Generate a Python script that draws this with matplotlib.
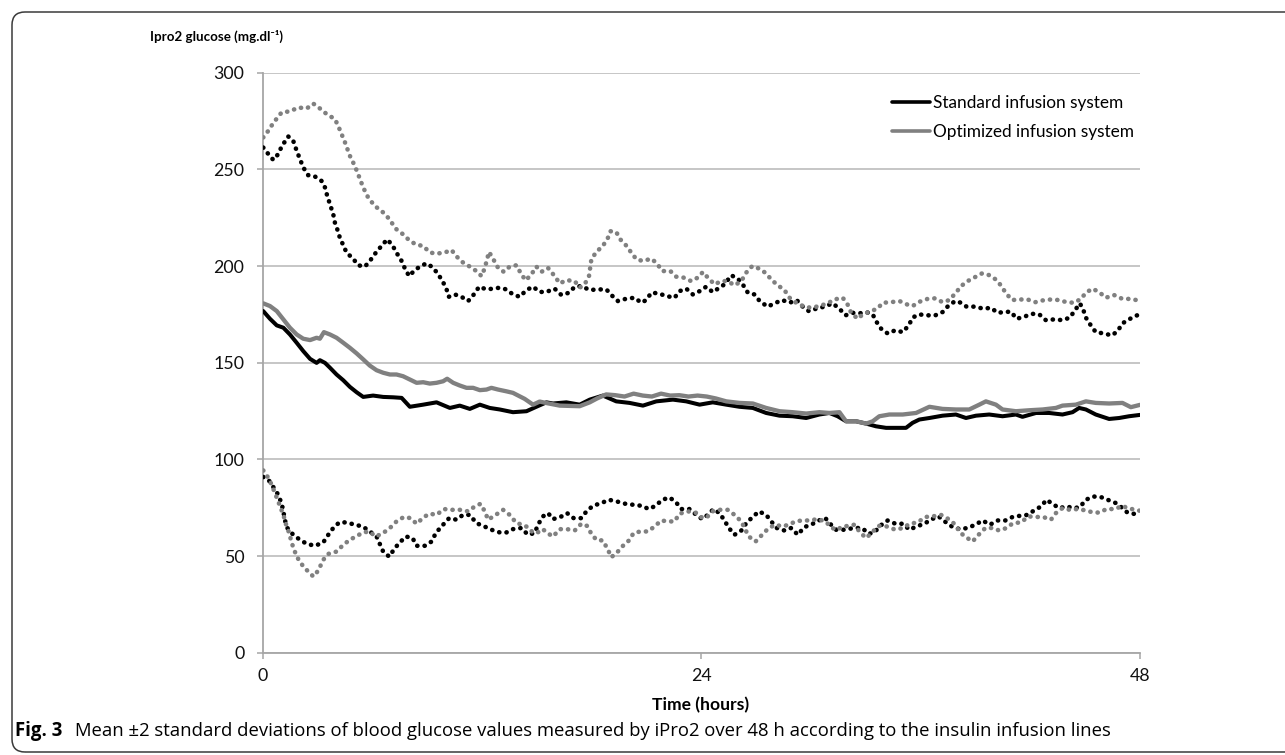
import matplotlib
matplotlib.use("Agg")
import matplotlib.pyplot as plt
from matplotlib.patches import FancyBboxPatch
from matplotlib import font_manager

# ---------------- data (hours, mg/dl) ----------------
std_hi = [(0.04,261.3),(0.32,257.9),(0.59,254.9),(0.86,257.9),(1.05,261.9),(1.41,267),(1.68,264.8),(1.87,259.6),(2.05,255.3),(2.23,251),(2.5,247),(2.87,246.3),(3.23,244),(3.42,240.6),(3.54,236.3),(3.69,232),(3.87,226.8),(3.96,222.5),(4.09,219),(4.23,214.7),(4.42,210.7),(4.6,206.9),(4.96,203.8),(5.23,200.4),(5.6,199.7),(5.87,202.6),(6.2,206.9),(6.51,210.4),(6.82,213.8),(7.11,210.7),(7.33,206.9),(7.61,202.6),(7.79,198.7),(8.02,194.8),(8.33,197.9),(8.61,199.7),(8.97,201.4),(9.25,199.7),(9.55,196.6),(9.85,192.2),(10.07,187.9),(10.19,184.1),(10.52,185.3),(10.88,184.1),(11.25,181.9),(11.56,185.3),(11.85,189.3),(12.25,187.9),(12.61,188.3),(12.98,188.8),(13.34,187.9),(13.7,185.3),(14.07,184.1),(14.44,187.6),(14.8,189.3),(15.16,186.6),(15.53,186.6),(15.98,188.3),(16.35,185),(16.77,186.2),(17.08,189.3),(17.44,189.6),(17.9,187.6),(18.35,187.9),(18.81,187.9),(19.14,184.5),(19.44,181.9),(19.9,183.1),(20.36,183.6),(20.72,181),(20.99,182.4),(21.27,186.2),(21.63,185.9),(22.09,184.5),(22.54,183.6),(22.81,187),(23.18,188.3),(23.54,185.3),(23.91,187),(24.27,189.3),(24.63,186.5),(25.0,188.8),(25.27,190.5),(25.64,195.2),(26.0,193.5),(26.27,190.5),(26.55,186.2),(26.91,185.3),(27.22,181.6),(27.64,179),(28.0,180.7),(28.43,182.4),(28.83,181),(29.22,182.4),(29.55,179),(29.88,176.7),(30.28,177.9),(30.74,179),(31.19,180.7),(31.56,177.9),(31.89,174.5),(32.28,175.8),(32.65,175.5),(33.02,176.2),(33.38,175),(33.56,171.5),(33.84,167.6),(34.2,165.1),(34.62,166.8),(35.02,165.8),(35.35,169.3),(35.56,173.3),(35.89,175),(36.38,174.5),(36.8,174.5),(37.2,176.2),(37.53,179.6),(37.9,181.9),(38.21,181),(38.51,179),(38.99,179),(39.43,177.9),(39.85,178.4),(40.21,175.8),(40.57,176.2),(40.94,176.4),(41.25,172.7),(41.67,173.8),(42.09,175.3),(42.49,175),(42.85,172),(43.31,172.4),(43.76,172),(44.16,173.3),(44.45,177.2),(44.71,180.7),(44.89,177.6),(45.04,173.3),(45.31,169.3),(45.58,165.8),(46.04,165.1),(46.46,164.1),(46.77,166.3),(47.04,170.3),(47.31,172),(47.68,173.8),(48.0,175.2)]

opt_hi = [(0.04,266.5),(0.32,270),(0.59,274),(1.05,279.5),(1.5,280),(1.96,282),(2.42,281.5),(2.78,284),(3.14,281.5),(3.51,278.6),(3.96,276),(4.14,272.5),(4.51,264),(4.78,257),(5.05,251.8),(5.23,247.5),(5.51,240.6),(5.78,235.4),(6.15,231),(6.51,228.5),(6.79,226),(7.06,222.5),(7.33,219),(7.69,216.4),(8.06,213),(8.43,211),(8.79,210.4),(9.15,207),(9.52,206.4),(9.97,207),(10.34,208.3),(10.61,205),(10.97,201.8),(11.34,199.7),(11.7,197.4),(11.98,194.8),(12.16,199),(12.39,207.3),(12.61,203.8),(12.89,199),(13.2,197),(13.52,199.7),(13.89,200.4),(14.16,195.7),(14.4,192.6),(14.71,195.7),(14.98,199.7),(15.26,197),(15.62,199),(15.98,194.8),(16.26,191),(16.62,192.7),(17.08,192.2),(17.35,188.8),(17.62,190.5),(17.86,194.8),(17.99,203.5),(18.26,207.3),(18.62,210.4),(18.9,214.7),(19.03,218),(19.35,217.6),(19.57,213.8),(19.86,211),(20.17,207),(20.45,203.5),(20.81,202.6),(21.27,203.8),(21.57,201.4),(21.87,197.4),(22.31,197.4),(22.63,194.5),(23.03,194),(23.45,192.2),(23.81,194),(24.09,196.9),(24.36,194),(24.73,190.5),(25.09,192.2),(25.45,192.2),(25.82,190),(26.19,192.2),(26.46,196.6),(26.79,200),(27.19,198.6),(27.55,196.2),(27.83,193),(28.19,190),(28.55,187.6),(28.83,183.6),(29.19,181),(29.64,179),(30.01,178.4),(30.46,179.3),(30.92,180.7),(31.28,182.7),(31.74,183.6),(32.01,180),(32.2,175.8),(32.56,172.7),(32.83,175),(33.29,176.7),(33.65,178),(33.92,181),(34.38,181.3),(34.84,181.9),(35.29,180),(35.56,179.3),(35.93,181.5),(36.38,183),(36.8,183.3),(37.2,181.3),(37.57,182.4),(37.93,186.2),(38.21,189.6),(38.57,192.2),(38.93,194),(39.36,196.2),(39.75,195.3),(40.12,193),(40.39,190),(40.67,185.9),(41.0,182.4),(41.39,182.7),(41.85,182.7),(42.27,181.3),(42.67,182.2),(43.13,182.7),(43.58,182.4),(43.98,181.3),(44.4,181),(44.77,183),(45.04,186.2),(45.4,188.3),(45.77,186.5),(46.13,183.6),(46.58,185),(47.04,183),(47.5,183),(48.0,182)]

std_mean = [(0.04,176.7),(0.41,172.7),(0.78,169.3),(1.14,168.1),(1.5,164.6),(1.87,160.3),(2.23,156),(2.6,152),(2.96,149.9),(3.14,151.3),(3.42,149.9),(3.69,147.4),(4.05,143.9),(4.42,140.9),(4.78,137.5),(5.15,134.7),(5.51,132.3),(6.05,133),(6.6,132.3),(7.15,132.1),(7.61,131.8),(8.06,127.2),(8.79,128.3),(9.52,129.5),(10.25,126.6),(10.79,127.8),(11.34,126.1),(11.89,128.3),(12.43,126.6),(12.98,125.8),(13.7,124.4),(14.44,124.9),(14.98,127.2),(15.53,129.5),(15.89,128.9),(16.62,129.5),(17.35,128.3),(17.9,130.9),(18.62,133),(19.35,130),(20.08,129.2),(20.81,127.8),(21.54,130),(22.45,130.9),(23.18,130),(23.91,128.3),(24.63,129.5),(25.37,128.3),(26.09,127.2),(26.82,126.6),(27.55,124),(28.28,122.6),(29.0,122.3),(29.74,121.4),(30.46,123.2),(31.01,124),(31.46,122.3),(31.92,119.7),(32.47,119.7),(33.02,118.5),(33.56,117.1),(34.11,116.3),(34.66,116.3),(35.2,116.3),(35.56,118.9),(35.93,120.6),(36.48,121.4),(37.2,122.6),(37.93,123.2),(38.48,121.4),(39.03,122.6),(39.75,123.2),(40.48,122.3),(41.21,123.2),(41.57,122),(42.31,124),(43.03,124),(43.76,123.2),(44.31,124.4),(44.67,126.6),(45.04,125.8),(45.58,123.2),(46.31,120.9),(46.86,121.4),(47.4,122.3),(48.0,123)]

opt_mean = [(0.04,180.7),(0.41,179.3),(0.78,176.7),(1.14,172.4),(1.5,168.1),(1.87,164.6),(2.23,162.4),(2.6,161.7),(2.96,162.9),(3.14,162.4),(3.36,165.8),(3.69,164.6),(4.05,162.9),(4.42,160.3),(4.78,157.7),(5.15,154.8),(5.51,151.7),(5.87,148.5),(6.24,146.1),(6.6,144.8),(6.97,143.9),(7.33,143.9),(7.69,143),(8.06,141.3),(8.43,139.6),(8.79,139.9),(9.15,139.2),(9.52,139.6),(9.88,140.4),(10.1,141.7),(10.43,139.6),(10.79,138.2),(11.16,137),(11.52,137),(11.89,135.8),(12.25,136.1),(12.52,137),(12.89,136.1),(13.34,135.2),(13.7,134.4),(14.07,132.6),(14.34,131.3),(14.8,128.3),(15.16,129.9),(15.6,129),(16.26,127.8),(17.35,127.5),(17.9,129.5),(18.3,131.5),(18.8,133.6),(19.3,133.2),(19.8,132.5),(20.3,134),(20.8,133),(21.3,132.5),(21.8,134),(22.3,133),(22.8,133.2),(23.3,132.5),(23.8,133),(24.3,132.5),(24.8,131.5),(25.37,130),(26.09,129.2),(26.82,128.9),(27.55,126.6),(28.28,124.9),(29.0,124.4),(29.74,123.7),(30.46,124.4),(31.01,124),(31.56,124.4),(31.92,119.7),(32.47,119.7),(33.02,118.5),(33.38,119.7),(33.74,122.3),(34.29,123.2),(35.02,123.2),(35.75,124),(36.48,127.2),(37.2,126.1),(37.93,125.8),(38.66,125.8),(39.21,128.3),(39.57,130),(40.12,128.3),(40.48,125.8),(41.21,124.9),(41.94,125.4),(42.67,125.8),(43.4,126.6),(43.76,127.8),(44.49,128.3),(45.04,130),(45.58,129.2),(46.31,128.9),(47.04,129.2),(47.5,127),(48.0,128.2)]

std_lo = [(0.04,90.9),(0.32,89.5),(0.59,85.7),(0.86,81.7),(1.05,77),(1.14,73.1),(1.23,68.4),(1.36,64.5),(1.68,61),(2.05,58.4),(2.42,56.3),(2.87,55.3),(3.32,57),(3.6,61),(3.87,64.5),(4.2,67.4),(4.6,67.4),(5.05,66.2),(5.48,65.3),(5.87,62.7),(6.24,60.1),(6.6,52.3),(6.93,49.7),(7.24,54.1),(7.51,57),(7.84,60.1),(8.21,59.3),(8.43,55.3),(8.88,55.3),(9.25,57.5),(9.48,61.9),(9.79,65.3),(10.21,69.6),(10.61,68.8),(10.97,71.3),(11.34,71.3),(11.7,67),(12.07,65.6),(12.52,63.6),(12.98,62.2),(13.34,62.2),(13.7,63.9),(14.16,64.5),(14.52,61),(14.89,61.9),(15.07,66.2),(15.34,70.5),(15.62,72.2),(15.89,69.1),(16.3,70.2),(16.66,72.2),(17.02,69.6),(17.44,69.6),(17.72,73.1),(18.08,76),(18.54,77.4),(18.95,79.1),(19.39,78.2),(19.86,77),(20.3,76.5),(20.72,76),(21.14,74.3),(21.5,76),(21.87,79.1),(22.27,80.3),(22.63,77.7),(22.91,74.3),(23.36,74.3),(23.73,71.3),(24.05,69.1),(24.36,71.3),(24.67,74.3),(25.0,72.2),(25.27,68.4),(25.51,64.5),(25.82,61),(26.19,63.2),(26.49,67.4),(26.82,70.2),(27.15,73.1),(27.55,71.3),(27.83,67.9),(28.13,64.5),(28.55,63.2),(28.92,64.5),(29.28,61),(29.64,65),(30.01,66.2),(30.43,68.4),(30.79,69.6),(31.1,66.2),(31.38,63.6),(31.89,63.6),(32.32,64.5),(32.8,64.5),(33.16,61.5),(33.47,62.2),(33.78,65.6),(34.2,68.4),(34.62,66.7),(35.05,66.7),(35.38,63.6),(35.78,65.3),(36.2,66.7),(36.62,69.1),(36.98,70.5),(37.39,67.4),(37.75,65),(38.15,63.9),(38.57,64.5),(38.99,66.2),(39.39,68.4),(39.79,66.2),(40.21,68.4),(40.63,68.4),(41.03,70.2),(41.43,70.8),(41.85,71.3),(42.21,73.6),(42.58,75.6),(42.89,79.1),(43.21,77),(43.58,74.8),(43.98,75.6),(44.4,74.8),(44.71,75.3),(45.04,79.1),(45.44,80.8),(45.86,80.5),(46.31,78.8),(46.68,77.4),(47.04,74.8),(47.31,72.5),(48.0,71.2)]

opt_lo = [(0.04,94.3),(0.32,90.4),(0.5,86.9),(0.68,82.6),(0.86,78.2),(1.14,71.3),(1.32,65.3),(1.46,61.9),(1.6,56.7),(1.87,49.7),(2.23,44.6),(2.5,42),(2.78,39.4),(3.05,42.5),(3.32,48),(3.6,51.1),(4.05,52.3),(4.42,55.8),(4.78,58.4),(5.18,60.5),(5.51,62.2),(5.84,62.7),(6.2,60.1),(6.6,61.9),(6.97,64.5),(7.33,67.9),(7.73,70.2),(8.1,69.6),(8.43,66.7),(8.83,70.2),(9.15,71.9),(9.52,71.3),(9.92,74.3),(10.34,73.9),(10.79,73.9),(11.25,73.1),(11.56,75.3),(11.92,77),(12.16,73.1),(12.34,68.8),(12.76,71.3),(13.16,73.9),(13.52,71.3),(13.89,67),(14.25,66.2),(14.58,64.5),(14.8,61.9),(15.16,62.5),(15.34,63.9),(15.53,62.2),(15.89,60.1),(16.26,63.9),(16.66,63.9),(17.08,63.2),(17.44,66.7),(17.75,65.6),(17.99,61.5),(18.26,58.4),(18.62,58),(18.9,53.2),(19.08,49.4),(19.39,51.8),(19.72,55.3),(20.04,58),(20.3,61.9),(20.67,62.7),(21.08,62.7),(21.45,65.3),(21.81,68.4),(22.17,67.9),(22.54,67.9),(22.81,71.9),(23.27,73.1),(23.69,72.5),(23.95,70.2),(24.27,69.6),(24.6,73.1),(25.0,73.9),(25.45,73.9),(25.82,71.3),(26.19,67.9),(26.6,60.1),(26.97,57.5),(27.33,61),(27.69,64.5),(28.06,66.2),(28.43,65.3),(28.79,66.2),(29.15,67.9),(29.52,68.4),(29.92,68.4),(30.37,69.1),(30.79,67.9),(31.16,64.5),(31.46,63.5),(31.65,65),(32.01,65.6),(32.38,66.2),(32.69,62.2),(33.02,59.3),(33.34,62.2),(33.71,65.6),(34.14,65.3),(34.62,63.6),(35.02,64.5),(35.42,66.7),(35.84,67.4),(36.26,70.2),(36.66,70.5),(37.11,71.3),(37.53,69.1),(37.9,66.2),(38.15,62.2),(38.48,59.8),(38.84,57.5),(39.17,61),(39.54,64.5),(39.93,64.5),(40.3,63.2),(40.7,64.5),(41.05,67),(41.49,67.4),(41.9,70.5),(42.31,70.2),(42.7,70.2),(43.13,68.8),(43.4,72.2),(43.76,74.8),(44.16,73.9),(44.58,74.3),(45.04,73.6),(45.44,72.5),(45.8,72.5),(46.16,74.3),(46.64,74.3),(47.04,76),(47.31,74.8),(48.0,73.4)]

series_labels = ["Standard infusion system", "Optimized infusion system"]
x_ticks = [0, 24, 48]
y_ticks = [0, 50, 100, 150, 200, 250, 300]
y_title = "Ipro2 glucose (mg.dl\u207b\u00b9)"
x_title = "Time (hours)"
caption_bold = "Fig. 3"
caption_text = "Mean \u00b12 standard deviations of blood glucose values measured by iPro2 over 48 h according to the insulin infusion lines"

# ---------------- style ----------------
BLACK = "#000000"
GREY = "#808080"
GRID = "#c6c6c6"
AXC = "#a6a6a6"
FONT = ["Lato", "DejaVu Sans"]


def available(name):
    try:
        font_manager.findfont(font_manager.FontProperties(family=name),
                              fallback_to_default=False)
        return True
    except Exception:
        return False


CAPF = [f for f in ["Open Sans", "Noto Sans"] if available(f)] + ["DejaVu Sans"]

W, H = 1285, 755
fig = plt.figure(figsize=(W / 100, H / 100), dpi=100)
fig.patch.set_facecolor("white")

L, R, T, B = 262.5, 1140.0, 72.7, 652.7
ax = fig.add_axes([L / W, 1 - B / H, (R - L) / W, (B - T) / H])


def unzip(pairs):
    return [p[0] for p in pairs], [p[1] for p in pairs]


dot = dict(linestyle=(0, (0.05, 1.55)), dash_capstyle="round", linewidth=3.3)

x, y = unzip(std_hi); ax.plot(x, y, color=BLACK, zorder=3, **dot)
x, y = unzip(std_lo); ax.plot(x, y, color=BLACK, zorder=3, **dot)
x, y = unzip(opt_hi); ax.plot(x, y, color=GREY, zorder=3.5, **dot)
x, y = unzip(opt_lo); ax.plot(x, y, color=GREY, zorder=3.5, **dot)

x, y = unzip(std_mean)
ax.plot(x, y, color=BLACK, lw=2.9, solid_capstyle="round", solid_joinstyle="round",
        zorder=4, label=series_labels[0])
x, y = unzip(opt_mean)
ax.plot(x, y, color=GREY, lw=3.1, solid_capstyle="round", solid_joinstyle="round",
        zorder=4.5, label=series_labels[1])

ax.set_xlim(0, 48)
ax.set_ylim(0, 300)
ax.set_xticks(x_ticks)
ax.set_yticks(y_ticks)
ax.set_xticklabels([str(v) for v in x_ticks], fontsize=12.8, family=FONT)
ax.set_yticklabels([str(v) for v in y_ticks], fontsize=12.8, family=FONT)
ax.yaxis.grid(True, color=GRID, lw=1.4)
ax.set_axisbelow(True)
for s in ("top", "right"):
    ax.spines[s].set_visible(False)
for s in ("left", "bottom"):
    ax.spines[s].set_color(AXC)
    ax.spines[s].set_linewidth(1.3)
ax.tick_params(axis="both", direction="out", length=4, width=1.1, color=AXC,
               labelcolor="#111111")
ax.tick_params(axis="y", pad=9)
ax.tick_params(axis="x", pad=7)

leg = ax.legend(loc="upper left",
                bbox_to_anchor=((891.7) / W, 1 - 95.0 / H),
                bbox_transform=fig.transFigure,
                frameon=False, borderpad=0, borderaxespad=0,
                handlelength=2.25, handletextpad=0.15, labelspacing=0.78,
                prop={"family": FONT, "size": 12.4})
for h in leg.legend_handles:
    h.set_linewidth(2.6)

fig.text(150 / W, 1 - 36.7 / H, y_title, fontsize=9.6, fontweight="bold",
         family=FONT, ha="left", va="center")
fig.text(701 / W, 1 - 705 / H, x_title, fontsize=12.6, fontweight="bold",
         family=FONT, ha="center", va="center")

CAP_FS = 13.4
cap1 = fig.text(15 / W, 1 - 731 / H, caption_bold, fontsize=CAP_FS, fontweight="bold",
                family=CAPF, ha="left", va="center")
fig.canvas.draw()
x1 = cap1.get_window_extent().x1
cap2 = fig.text((x1 + 13) / W, 1 - 731 / H, caption_text, fontsize=CAP_FS,
                family=CAPF, ha="left", va="center")
fig.canvas.draw()
w2 = cap2.get_window_extent().width
target_end = 1112
cap2.set_fontsize(CAP_FS * (target_end - x1 - 13) / w2)

frame = FancyBboxPatch((12, 3), 1320, 740, boxstyle="round,pad=0,rounding_size=13",
                       transform=None, fill=False, edgecolor="#3a3a3a", lw=1.1)
fig.add_artist(frame)

fig.savefig("out.png", dpi=100, facecolor="white")
